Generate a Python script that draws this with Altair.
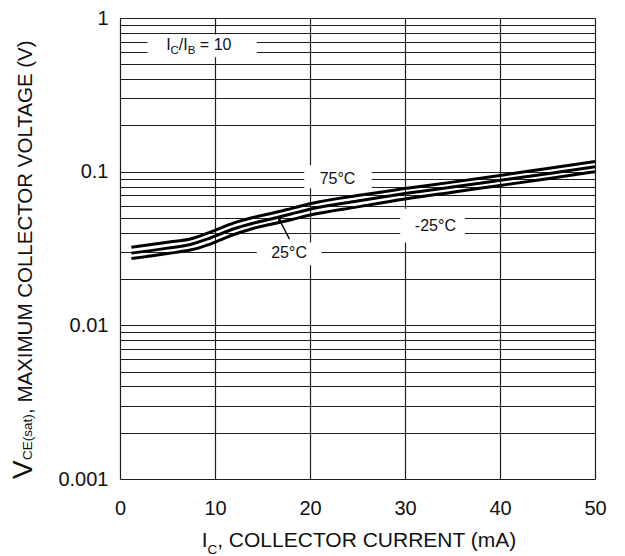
import altair as alt
import pandas as pd

FONT = "Liberation Sans"
INK = "#111111"

# ---- data ----
ic_ma = [1.2, 5, 7.5, 9.5, 12, 14, 16, 18, 20, 25, 30, 35, 40, 45, 50]
vce_75 = [0.0322, 0.0347, 0.0366, 0.0404, 0.0464, 0.0503, 0.0536, 0.0575, 0.0618,
          0.0700, 0.0776, 0.0855, 0.0945, 0.1050, 0.1165]
vce_25 = [0.0295, 0.0318, 0.0337, 0.0370, 0.0425, 0.0462, 0.0494, 0.0530, 0.0570,
          0.0645, 0.0720, 0.0795, 0.0878, 0.0970, 0.1076]
vce_m25 = [0.0272, 0.0293, 0.0310, 0.0338, 0.0390, 0.0427, 0.0457, 0.0487, 0.0522,
           0.0590, 0.0664, 0.0735, 0.0813, 0.0900, 0.1000]

x_ticks = [0, 10, 20, 30, 40, 50]
y_grid = [0.001, 0.002, 0.003, 0.004, 0.005, 0.006, 0.007, 0.008, 0.009,
          0.01, 0.02, 0.03, 0.04, 0.05, 0.06, 0.07, 0.08, 0.09,
          0.1, 0.2, 0.3, 0.4, 0.5, 0.6, 0.7, 0.8, 0.9, 1]

temp_labels = ["75°C", "-25°C", "25°C"]
temp_label_x = [22.9, 33.2, 17.8]
temp_label_y = [0.090, 0.0445, 0.0296]

# white label backgrounds (ratio label, 75, -25, 25)
box_x1 = [2.9, 19.4, 29.5, 14.4]
box_x2 = [14.4, 26.5, 36.3, 21.2]
box_y1 = [0.78, 0.110, 0.0574, 0.0346]
box_y2 = [0.555, 0.078, 0.0346, 0.0246]

arrow_x = [17.84, 16.72]
arrow_y = [0.0364, 0.0495]

ratio_x = 4.86
ratio_y = 0.618

# ---- tables ----
curves = pd.DataFrame({
    "ic": ic_ma * 3,
    "v": vce_75 + vce_25 + vce_m25,
    "temp": ["75"] * len(ic_ma) + ["25"] * len(ic_ma) + ["-25"] * len(ic_ma),
})
boxes = pd.DataFrame({"x1": box_x1, "x2": box_x2, "y1": box_y1, "y2": box_y2})
tlabels = pd.DataFrame({"x": temp_label_x, "y": temp_label_y, "t": temp_labels})
arrow = pd.DataFrame({"x1": [arrow_x[0]], "x2": [arrow_x[1]],
                      "y1": [arrow_y[0]], "y2": [arrow_y[1]]})
ratio = pd.DataFrame({"x": [ratio_x], "y": [ratio_y]})

GRID = "#1e1e1e"
x_scale = alt.Scale(domain=[0, 50], nice=False, zero=False)
y_scale = alt.Scale(type="log", domain=[0.001, 1], nice=False)
x_axis = alt.Axis(values=x_ticks, title=None, grid=True, gridColor=GRID, gridWidth=1.2,
                  gridOpacity=1, ticks=False, tickSize=0, domain=False,
                  labelFont=FONT, labelFontSize=20, labelColor=INK,
                  labelPadding=19, labelFlush=False, labelOverlap=False)
y_axis = alt.Axis(values=y_grid, title=None, grid=True, gridColor=GRID, gridWidth=1.2,
                  gridOpacity=1, ticks=False, tickSize=0, domain=False,
                  labelFont=FONT, labelFontSize=20, labelColor=INK,
                  labelPadding=12, labelFlush=False, labelOverlap=False,
                  labelExpr="indexof([1, 0.1, 0.01, 0.001], datum.value) >= 0 ? format(datum.value, '~g') : ''")


def X(f):
    return alt.X(f"{f}:Q", scale=x_scale, axis=x_axis)


def Y(f):
    return alt.Y(f"{f}:Q", scale=y_scale, axis=y_axis)


box_layer = alt.Chart(boxes).mark_rect(fill="white").encode(
    x=X("x1"), x2="x2", y=Y("y1"), y2="y2")

curve_layer = alt.Chart(curves).mark_line(color="black", strokeWidth=3,
                                           interpolate="monotone").encode(
    x=X("ic"), y=Y("v"), detail="temp:N")

tlabel_layer = alt.Chart(tlabels).mark_text(font=FONT, fontSize=16, color=INK,
                                            align="center", baseline="middle").encode(
    x=X("x"), y=Y("y"), text="t:N")

arrow_line = alt.Chart(arrow).mark_rule(color="black", strokeWidth=1.3).encode(
    x=X("x1"), x2="x2", y=Y("y1"), y2="y2")
arrow_head = alt.Chart(arrow).mark_point(
    shape="M0,-1L0.5,0.8L-0.5,0.8Z", filled=True, color="black", opacity=1,
    size=45, angle=332).encode(x=X("x2"), y=Y("y2"))

ratio_parts = [("I", 16, 0, 0), ("C", 11.5, 4.4, 4), ("/I", 16, 12.7, 0),
               ("B", 11.5, 21.6, 4), ("= 10", 16, 33.7, 0)]
ratio_layers = [
    alt.Chart(ratio).mark_text(text=txt, font=FONT, fontSize=fs, dx=dx, dy=dy,
                               align="left", baseline="alphabetic", color=INK)
    .encode(x=X("x"), y=Y("y"))
    for txt, fs, dx, dy in ratio_parts
]

# axis titles (with subscripts) as text pieces, positioned in pixels
one = pd.DataFrame({"k": [0]})
ytitle_parts = [("V", 28, 461), ("CE(sat)", 13.5, 442), (", MAXIMUM COLLECTOR VOLTAGE (V)", 20.5, 396)]
ytitle_layers = [
    alt.Chart(one).mark_text(text=txt, font=FONT, fontSize=fs, angle=270,
                             align="left", baseline="alphabetic", color=INK)
    .encode(x=alt.value(-88), y=alt.value(yy))
    for txt, fs, yy in ytitle_parts
]
xtitle_parts = [("I", 21, 81.7, 529), ("C", 13.5, 87.5, 536),
                (", COLLECTOR CURRENT (mA)", 21, 97.2, 529)]
xtitle_layers = [
    alt.Chart(one).mark_text(text=txt, font=FONT, fontSize=fs,
                             align="left", baseline="alphabetic", color=INK)
    .encode(x=alt.value(xx), y=alt.value(yy))
    for txt, fs, xx, yy in xtitle_parts
]

chart = alt.layer(
    box_layer, curve_layer, tlabel_layer, arrow_line, arrow_head,
    *ratio_layers, *ytitle_layers, *xtitle_layers
).properties(
    width=475, height=461,
    padding={"left": 112, "top": 10, "right": 14, "bottom": 77},
    autosize=alt.AutoSizeParams(type="none"),
).configure_view(stroke="black", strokeWidth=1.5).configure(background="white")

chart.save("out.html", embed_options={"renderer": "svg", "actions": False})
